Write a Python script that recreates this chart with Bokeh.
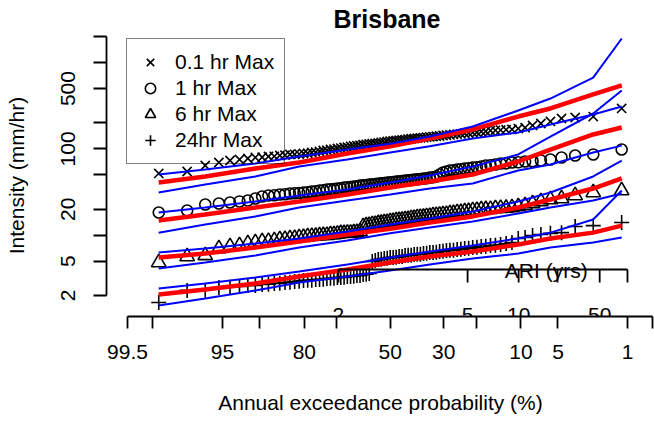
from statistics import NormalDist

from bokeh.core.properties import value
from bokeh.embed import file_html
from bokeh.models import FixedTicker, Label, Legend, LegendItem, Range1d
from bokeh.plotting import figure
from bokeh.resources import INLINE

FONT = "Liberation Sans"

# Annual maximum rainfall intensities (mm/hr), sorted ascending, 85 years of record
max_01hr = [51.9, 54.7, 64.2, 69.5, 73.3, 75.3, 77.4, 79.4, 80.0, 81.6,
            82.0, 83.8, 84.5, 86.1, 86.5, 87.0, 88.4, 89.0, 90.8, 91.5,
            93.3, 95.8, 96.5, 98.4, 99.0, 101, 102, 104, 105, 107,
            108, 109, 110, 112, 113, 114, 115, 116, 117, 119,
            120, 122, 123, 124, 125, 126, 127, 128, 130, 131,
            132, 133, 134, 135, 137, 138, 139, 140, 141, 143,
            144, 145, 147, 148, 149, 151, 152, 155, 156, 159,
            160, 163, 164, 165, 167, 168, 172, 176, 187, 197,
            208, 225, 231, 237, 294]
max_1hr = [18.3, 19.3, 22.7, 23.3, 23.9, 24.6, 25.2, 26.6, 28.1, 28.8,
           29.0, 29.6, 29.8, 30.4, 30.6, 30.8, 31.2, 31.5, 32.1, 32.3,
           32.9, 33.2, 33.8, 34.0, 34.2, 34.8, 35.0, 35.7, 35.9, 36.1,
           36.6, 36.9, 37.6, 37.9, 38.1, 38.7, 38.9, 39.2, 39.7, 40.0,
           40.2, 40.8, 41.0, 41.3, 41.9, 42.2, 42.5, 43.0, 43.3, 43.6,
           44.2, 44.5, 44.8, 45.4, 45.7, 46.6, 47.0, 47.9, 50.5, 53.2,
           54.7, 56.2, 56.6, 57.7, 58.1, 59.2, 59.6, 60.8, 61.2, 62.5,
           64.2, 64.6, 65.9, 67.7, 68.0, 69.5, 69.9, 71.4, 71.8, 73.3,
           75.3, 79.4, 83.8, 86.1, 98.4]
max_6hr = [4.82, 5.66, 5.82, 7.01, 7.39, 7.59, 8.01, 8.23, 8.45, 8.50,
           8.68, 8.91, 8.95, 9.15, 9.20, 9.40, 9.45, 9.65, 9.70, 9.75,
           9.91, 9.95, 10.0, 10.2, 10.2, 10.3, 10.5, 10.5, 10.6, 10.6,
           10.7, 10.8, 11.0, 12.6, 12.9, 13.0, 13.3, 13.4, 13.7, 13.8,
           14.0, 14.1, 14.4, 14.5, 14.8, 14.9, 15.0, 15.2, 15.3, 15.6,
           15.7, 16.0, 16.1, 16.2, 16.5, 16.6, 16.9, 17.0, 17.1, 17.4,
           17.5, 17.8, 17.9, 18.3, 18.4, 18.8, 18.9, 19.3, 19.4, 19.8,
           19.9, 20.0, 20.4, 20.5, 20.6, 20.9, 21.5, 22.1, 23.3, 24.6,
           25.9, 26.6, 28.8, 31.2, 32.9]
max_24hr = [1.66, 2.29, 2.30, 2.48, 2.50, 2.54, 2.61, 2.62, 2.68, 2.70,
            2.75, 2.77, 2.83, 2.85, 2.91, 2.92, 2.98, 3.00, 3.01, 3.06,
            3.07, 3.08, 3.15, 3.16, 3.17, 3.23, 3.24, 3.25, 3.32, 3.33,
            3.34, 3.41, 3.42, 3.50, 3.52, 3.60, 4.95, 5.09, 5.23, 5.25,
            5.37, 5.40, 5.51, 5.53, 5.55, 5.66, 5.68, 5.82, 5.84, 5.86,
            5.97, 6.00, 6.02, 6.13, 6.16, 6.30, 6.32, 6.35, 6.47, 6.50,
            6.64, 6.67, 6.70, 6.82, 6.85, 7.01, 7.04, 7.20, 7.23, 7.39,
            7.42, 7.59, 7.62, 7.80, 8.01, 8.23, 9.15, 9.40, 9.91, 10.2,
            10.5, 10.7, 12.6, 12.9, 14.0]

# Fitted quantiles with lower / upper confidence limits, at these AEPs (%)
curve_aep = [98.84, 96.51, 90.70, 81.40, 66.28, 50.0, 34.88, 20.93, 10.47, 5.81, 2.33, 1.16]
fit_01hr = [40.8, 47.9, 59.2, 69.5, 88.4, 107, 132, 168, 237, 294, 427, 543]
hi_01hr = [50.5, 57.7, 67.7, 81.6, 98.3, 115, 139, 182, 278, 383, 671, 1900]
lo_01hr = [31.2, 38.7, 47.9, 62.5, 75.3, 90.8, 107, 132, 155, 192, 250, 310]
fit_1hr = [14.8, 17.4, 20.9, 24.6, 29.6, 35.7, 41.9, 50.5, 71.4, 98.3, 147, 177]
hi_1hr = [18.3, 20.9, 24.6, 28.8, 33.8, 40.8, 49.1, 62.5, 86.1, 139, 257, 475]
lo_1hr = [10.7, 13.3, 16.5, 20.9, 25.2, 29.6, 34.7, 39.7, 56.2, 65.9, 90.8, 109]
fit_6hr = [5.51, 6.13, 7.20, 8.45, 10.2, 11.9, 14.0, 16.5, 20.9, 25.9, 34.7, 45.4]
hi_6hr = [6.30, 7.01, 8.01, 9.15, 11.0, 13.3, 15.6, 18.8, 24.6, 31.2, 47.9, 73.3]
lo_6hr = [4.11, 4.82, 5.82, 7.20, 8.68, 10.5, 12.3, 14.4, 17.8, 20.9, 25.2, 30.4]
fit_24hr = [2.05, 2.35, 2.75, 3.32, 4.00, 4.82, 5.66, 6.47, 7.80, 9.15, 10.7, 12.9]
hi_24hr = [2.41, 2.75, 3.23, 3.79, 4.57, 5.51, 6.47, 7.59, 9.15, 10.7, 15.2, 32.9]
lo_24hr = [1.53, 1.85, 2.29, 2.83, 3.32, 3.90, 4.57, 5.37, 6.13, 7.20, 8.23, 9.40]

series_names = ["0.1 hr Max", "1 hr Max", "6 hr Max", "24hr Max"]

# Axis ticks
aep_ticks = [99.5, 99, 95, 90, 80, 70, 50, 30, 20, 10, 5, 1, 0.5]
aep_labels = ["99.5", "", "95", "", "80", "", "50", "30", "", "10", "5", "1", ""]
intensity_ticks = [2, 5, 10, 20, 50, 100, 200, 500, 1000, 2000]
intensity_labels = ["2", "5", "", "20", "", "100", "", "500", "", ""]
ari_tick_aep = [69.4, 22.4, 10.4, 5.05, 2.0, 1.0]
ari_labels = ["2", "5", "10", "", "50", ""]

ND = NormalDist()


def aep_to_z(aep):
    """Normal-probability position of an annual exceedance probability (%)."""
    return ND.inv_cdf(1.0 - aep / 100.0)


def plotting_positions(values):
    n = len(values)
    return [ND.inv_cdf(i / (n + 1)) for i in range(1, n + 1)]


p = figure(width=654, height=423, y_axis_type="log",
           x_range=Range1d(-2.7814, 2.5912), y_range=Range1d(1.1420, 2115.5),
           output_backend="svg", toolbar_location=None,
           min_border_left=106, min_border_right=0, min_border_top=34, min_border_bottom=107)
p.outline_line_color = None
p.grid.visible = False
p.background_fill_color = "white"
p.border_fill_color = "white"

p.title.text = "Brisbane"
p.title.align = "left"
p.title.offset = 227
p.title.text_font = FONT
p.title.text_font_size = "25px"
p.title.text_font_style = "bold"
p.title.text_color = "black"
p.title.standoff = 3

# bottom probability axis
xt = [round(aep_to_z(a), 9) for a in aep_ticks]
xa = p.xaxis[0]
xa.ticker = FixedTicker(ticks=xt)
xa.major_label_overrides = {t: lab for t, lab in zip(xt, aep_labels)}
xa.bounds = (xt[0], xt[-1])
xa.axis_label = "Annual exceedance probability (%)"
xa.minor_tick_line_color = None

# left intensity axis
ya = p.yaxis[0]
ya.ticker = FixedTicker(ticks=intensity_ticks)
ya.major_label_overrides = {t: lab for t, lab in zip(intensity_ticks, intensity_labels)}
ya.bounds = (intensity_ticks[0], intensity_ticks[-1])
ya.axis_label = "Intensity (mm/hr)"
ya.major_label_orientation = "vertical"
ya.minor_tick_line_color = None

for ax in (xa, ya):
    ax.axis_line_width = 1.8
    ax.major_tick_line_width = 1.8
    ax.major_tick_in = 0
    ax.major_label_text_font = FONT
    ax.major_label_text_font_size = "21px"
    ax.major_label_text_color = "black"
    ax.axis_label_text_font = FONT
    ax.axis_label_text_font_size = "21px"
    ax.axis_label_text_font_style = "normal"
    ax.axis_label_text_color = "black"
xa.major_tick_out = 12
xa.major_label_standoff = 16
xa.axis_label_standoff = 29
ya.major_tick_out = 13
ya.major_label_standoff = 18
ya.axis_label_standoff = 31

# observed annual maxima
marker_style = [("x", 13), ("circle", 11), ("triangle", 14.5), ("cross", 15)]
observed = [max_01hr, max_1hr, max_6hr, max_24hr]
scatter_renderers = []
for vals, (mk, sz) in zip(observed, marker_style):
    r = p.scatter(plotting_positions(vals), vals, marker=mk, size=sz,
                  line_color="black", fill_color=None, line_width=1.6)
    scatter_renderers.append(r)

# fitted curves and confidence limits
cz = [aep_to_z(a) for a in curve_aep]
for fit in (fit_01hr, fit_1hr, fit_6hr, fit_24hr):
    p.line(cz, fit, line_color="#FF0000", line_width=4.5)
for band in (hi_01hr, lo_01hr, hi_1hr, lo_1hr, hi_6hr, lo_6hr, hi_24hr, lo_24hr):
    p.line(cz, band, line_color="#0000FF", line_width=2)

# average recurrence interval scale
az = [aep_to_z(a) for a in ari_tick_aep]
p.segment(x0=[az[0]], y0=[4.0], x1=[az[-1]], y1=[4.0], line_color="black", line_width=1.8)
p.segment(x0=az, y0=[4.0] * len(az), x1=az, y1=[2.83] * len(az), line_color="black", line_width=1.8)
p.text(x=az, y=[1.19] * len(az), text=ari_labels, text_align="center",
       text_baseline="alphabetic", text_font=value(FONT), text_font_size="21px", text_color="black")
p.text(x=[aep_to_z(6.3)], y=[3.897], text=["ARI (yrs)"], text_align="center",
       text_baseline="alphabetic", text_font=value(FONT), text_font_size="21px", text_color="black")

legend = Legend(items=[LegendItem(label=name, renderers=[r])
                       for name, r in zip(series_names, scatter_renderers)],
                location=(20, 152), margin=0, padding=10, spacing=0,
                glyph_width=26, glyph_height=26, label_standoff=12,
                label_text_font=FONT, label_text_font_size="21px", label_text_color="black",
                border_line_color="black", border_line_width=1.5,
                background_fill_alpha=0.0)
p.add_layout(legend)

# neighbouring panels of the same page
p.add_layout(Label(x=0.0, y=4969, text="Annual exceedance probability (%)", text_align="center",
                   text_baseline="alphabetic", text_font=FONT, text_font_size="21px", text_color="black"))
p.add_layout(Label(x=0.0, y=0.0531, text="Darwin", text_align="center", text_baseline="alphabetic",
                   text_font=FONT, text_font_size="25px", text_font_style="bold", text_color="black"))

open("out.html", "w").write(file_html(p, INLINE))
